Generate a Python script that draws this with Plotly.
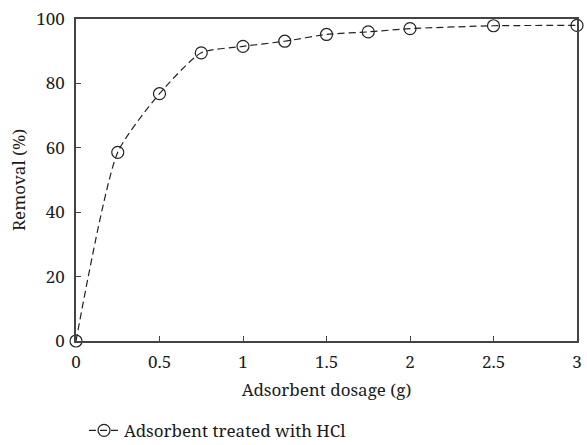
import plotly.graph_objects as go

dosage = [0, 0.25, 0.5, 0.75, 1.0, 1.25, 1.5, 1.75, 2.0, 2.5, 3.0]
removal = [0, 58.6, 76.8, 89.5, 91.5, 93.1, 95.2, 96.0, 97.0, 97.9, 98.0]
series_name = "Adsorbent treated with HCl"

SERIF = "Noto Serif"
TXT = dict(family=SERIF, size=17, color="#1a1a1a")

fig = go.Figure()
fig.add_trace(go.Scatter(
    x=dosage, y=removal, name=series_name,
    mode="lines+markers",
    line=dict(color="#222", width=1.2, dash="7px,4px", shape="spline", smoothing=0.6),
    marker=dict(symbol="circle-open", size=12, color="#222", line=dict(width=1.2)),
    cliponaxis=False,
))

fig.update_layout(
    width=587, height=445,
    margin=dict(l=76, r=10, t=19, b=104, autoexpand=False),
    paper_bgcolor="white", plot_bgcolor="white",
    font=TXT,
    showlegend=True,
    legend=dict(orientation="h", x=0.016, xanchor="left",
                yref="container", y=0.032, yanchor="middle",
                font=TXT, bgcolor="rgba(0,0,0,0)"),
)
fig.update_xaxes(
    range=[0, 3], tickvals=[0, 0.5, 1, 1.5, 2, 2.5, 3],
    ticktext=["0", "0.5", "1", "1.5", "2", "2.5", "3"],
    tickfont=TXT,
    ticks="inside", ticklen=5, tickcolor="#444", ticklabelstandoff=5,
    showline=True, linecolor="#444", linewidth=1.5, mirror=True,
    showgrid=False, zeroline=False,
    title=dict(text="Adsorbent dosage (g)", standoff=12, font=TXT),
)
fig.update_yaxes(
    range=[0, 100], tickvals=[0, 20, 40, 60, 80, 100],
    tickfont=TXT,
    ticks="inside", ticklen=5, tickcolor="#444", ticklabelstandoff=6,
    showline=True, linecolor="#444", linewidth=1.5, mirror=True,
    showgrid=False, zeroline=False,
    title=dict(text="Removal (%)", standoff=6, font=TXT),
)
fig.write_html("out.html")
